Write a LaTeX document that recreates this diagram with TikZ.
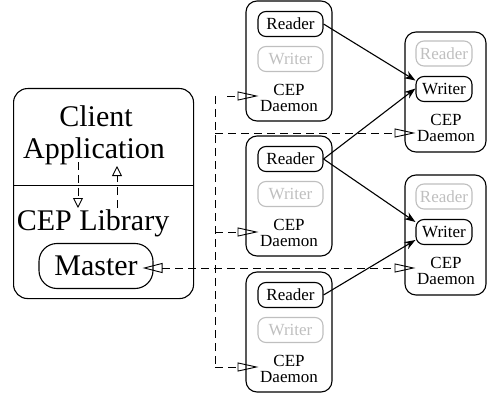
\documentclass[tikz,border=0pt]{standalone}
\usepackage{fontspec}
\setmainfont{Liberation Serif}
\usetikzlibrary{arrows.meta}
\begin{document}
\begin{tikzpicture}[x=1pt,y=-1pt,
  outerbox/.style={draw, line width=1.1pt, rounded corners=14pt, minimum width=180pt, minimum height=210pt, anchor=north west, inner sep=0},
  masterbox/.style={draw, line width=1.1pt, rounded corners=18pt, minimum width=114pt, minimum height=45pt, inner sep=0, font=\fontsize{30}{30}\selectfont},
  bigtext/.style={font=\fontsize{30}{30}\selectfont, inner sep=0, anchor=base},
  daemon/.style={draw, line width=1.1pt, rounded corners=11pt, minimum height=120pt, inner sep=0},
  midd/.style={daemon, minimum width=86pt},
  rightd/.style={daemon, minimum width=81pt},
  rw/.style={draw, line width=1.1pt, rounded corners=8pt, minimum height=25pt, inner sep=0, font=\fontsize{17}{17}\selectfont},
  midrw/.style={rw, minimum width=65pt},
  rightrw/.style={rw, minimum width=56pt},
  inactive/.style={draw=black!25, text=black!25},
  dtext/.style={align=center, inner sep=1.5pt, font=\fontsize{17}{16}\selectfont},
  dashline/.style={line width=0.9pt, dash pattern=on 8pt off 5pt},
  dasharrow/.style={dashline, -{Triangle[open, length=21pt, width=9pt, line width=0.9pt]}},
  smalldasharrow/.style={dashline, -{Triangle[open, length=10pt, width=10pt, line width=0.9pt]}},
  solidarrow/.style={line width=1.1pt, -{Stealth[length=11pt, width=8pt]}}
]
\useasboundingbox (0,0) rectangle (487,393);

% client application
\node[outerbox] (client) at (13,88) {};
\draw[line width=1pt] (client.west |- 0,185) coordinate (divl) -- (client.east |- 0,185) coordinate (divr);
\node[bigtext] (clientt) at (96,127) {Client};
\node[bigtext] (appt) at (94,158) {Application};
\node[bigtext] (libt) at (93,230) {CEP Library};
\node[masterbox] (master) at (96,266) {Master};
\coordinate (downs) at (78,162);
\coordinate (downe) at (78,208);
\coordinate (ups) at (117,208);
\coordinate (upe) at (117,166);
\draw[smalldasharrow] (downs) -- (downe);
\draw[smalldasharrow] (ups) -- (upe);

% middle daemons
\foreach \n/\t in {1/1, 2/136, 3/272} {
  \node[midd] (md\n) at (289,\t+60) {};
  \node[midrw] (mr\n) at (290.5,\t+23) {Reader};
  \node[midrw, inactive] (mw\n) at (290.5,\t+58) {Writer};
  \node[dtext] (mt\n) at (289,\t+97) {CEP\\Daemon};
}

% right daemons
\foreach \n/\t in {1/32, 2/175} {
  \node[rightd] (rd\n) at (445.5,\t+60) {};
  \node[rightrw, inactive] (rr\n) at (444,\t+21.5) {Reader};
  \node[rightrw] (rw\n) at (444,\t+57) {Writer};
  \node[dtext] (rt\n) at (446,\t+96) {CEP\\Daemon};
}

% solid reader -> writer arrows
\draw[solidarrow] (mr1.east) -- ([yshift=8.5pt]rw1.west);
\draw[solidarrow] (mr2.east) -- ([yshift=0.5pt]rw1.west);
\draw[solidarrow] (mr2.east) -- ([yshift=10pt]rw2.west);
\draw[solidarrow] (mr3.east) -- ([yshift=-8pt]rw2.west);

% dashed bus
\coordinate (b1) at (215,96);
\coordinate (b2) at (215,133);
\coordinate (b3) at (215,232);
\coordinate (b4) at (215,367);
\coordinate (bm) at (215,268);
\draw[dashline] (b1) -- (b4);
\draw[dasharrow] (b1) ++(12,0) coordinate (b1s) -- (b1 -| mt1.west);
\draw[dasharrow] (b2) -- (b2 -| rt1.west);
\draw[dasharrow] (b3) -- (b3 -| mt2.west);
\draw[dasharrow] (b4) -- (b4 -| mt3.west);
\draw[dashline, {Triangle[open, length=20pt, width=10pt, line width=0.9pt]}-{Triangle[open, length=21pt, width=9pt, line width=0.9pt]}, shorten <=-11pt] (bm -| master.east) -- (bm -| rt2.west);
\end{tikzpicture}
\end{document}
